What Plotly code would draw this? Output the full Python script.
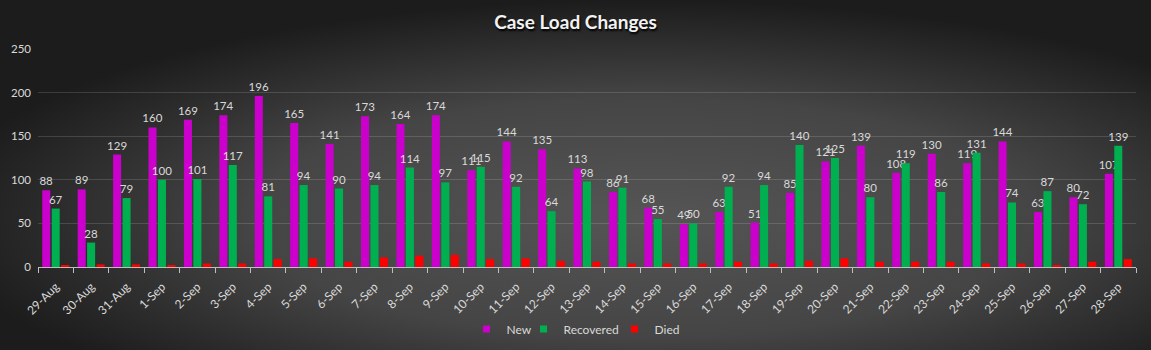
import base64
import plotly.graph_objects as go

categories = ["29-Aug", "30-Aug", "31-Aug", "1-Sep", "2-Sep", "3-Sep", "4-Sep", "5-Sep", "6-Sep", "7-Sep",
              "8-Sep", "9-Sep", "10-Sep", "11-Sep", "12-Sep", "13-Sep", "14-Sep", "15-Sep", "16-Sep", "17-Sep",
              "18-Sep", "19-Sep", "20-Sep", "21-Sep", "22-Sep", "23-Sep", "24-Sep", "25-Sep", "26-Sep", "27-Sep",
              "28-Sep"]
new_cases = [88, 89, 129, 160, 169, 174, 196, 165, 141, 173, 164, 174, 111, 144, 135, 113, 86, 68, 49, 63,
             51, 85, 121, 139, 108, 130, 119, 144, 63, 80, 107]
recovered = [67, 28, 79, 100, 101, 117, 81, 94, 90, 94, 114, 97, 115, 92, 64, 98, 91, 55, 50, 92,
             94, 140, 125, 80, 119, 86, 131, 74, 87, 72, 139]
died = [2, 3, 3, 2, 4, 4, 9, 10, 6, 11, 13, 14, 9, 10, 7, 6, 4, 4, 4, 6,
        4, 7, 10, 6, 6, 6, 4, 4, 2, 6, 9]
series_names = ["New", "Recovered", "Died"]
series_colors = ["#cc00cc", "#00b050", "#ff0000"]
y_ticks = [0, 50, 100, 150, 200, 250]

W, H = 1151, 350
ML, MR, MT, MB = 38, 15, 49, 83
PW, PH = W - ML - MR, H - MT - MB

svg = f'''<svg xmlns="http://www.w3.org/2000/svg" width="{W}" height="{H}" viewBox="0 0 {W} {H}" preserveAspectRatio="none">
<defs><radialGradient id="g" cx="0.56" cy="0.62" r="0.62" fx="0.56" fy="0.62">
<stop offset="0" stop-color="#555555"/><stop offset="0.55" stop-color="#454545"/><stop offset="1" stop-color="#1c1c1c"/>
</radialGradient></defs><rect width="{W}" height="{H}" fill="url(#g)"/></svg>'''
src = "data:image/svg+xml;base64," + base64.b64encode(svg.encode()).decode()

label_font = dict(family="Lato, 'Open Sans', sans-serif", size=11.5, color="#d9d9d9")
legend_widths = [12, 46, 0]

fig = go.Figure()
values = [new_cases, recovered, died]
for name, color, vals in zip(series_names, series_colors, values):
    kw = {}
    if name != "Died":
        kw = dict(text=vals, textposition="outside", textfont=label_font, cliponaxis=False,
                  constraintext="none")
    fig.add_trace(go.Bar(name=name, x=categories, y=vals, marker=dict(color=color, line=dict(width=0)),
                         showlegend=False, legendgroup=name, **kw))
for name, color, lw in zip(series_names, series_colors, legend_widths):
    kw = dict(legendwidth=lw) if lw else {}
    fig.add_trace(go.Scatter(name=name, x=[None], y=[None], mode="markers", legendgroup=name,
                             marker=dict(symbol="square", size=7, color=color), **kw))

fig.update_layout(
    width=W, height=H,
    margin=dict(l=ML, r=MR, t=MT, b=MB, pad=0, autoexpand=False),
    paper_bgcolor="#3a3a3a", plot_bgcolor="rgba(0,0,0,0)",
    barmode="group", bargap=0.2, bargroupgap=0.15,
    font=dict(family="Lato, 'Open Sans', sans-serif", color="#d9d9d9", size=12),
    title=dict(text="<b>Case Load Changes</b>", x=0.5, xanchor="center", y=1 - 22 / H, yanchor="middle",
               font=dict(size=19, color="#f2f2f2", shadow="1px 2px 2px #000000")),
    showlegend=True,
    legend=dict(orientation="h", x=0.5, xanchor="center", xref="container",
                y=1 - 329 / H, yanchor="middle", yref="container",
                font=dict(size=12, color="#d9d9d9"), bgcolor="rgba(0,0,0,0)",
                itemwidth=30, tracegroupgap=0),
    images=[dict(source=src, xref="paper", yref="paper",
                 x=-ML / PW, y=1 + MT / PH, sizex=W / PW, sizey=H / PH,
                 xanchor="left", yanchor="top", sizing="stretch", layer="below")],
)
fig.update_xaxes(type="category", tickangle=-45, tickfont=dict(size=12, color="#d9d9d9"),
                 showline=True, linecolor="#bfbfbf", linewidth=1, ticks="outside", tickson="boundaries",
                 ticklen=5, tickcolor="#bfbfbf", showgrid=False, automargin=False, ticklabelstandoff=7)
fig.update_yaxes(range=[0, 250], tickvals=y_ticks, tickfont=dict(size=11.5, color="#d9d9d9"),
                 showgrid=True, gridcolor="rgba(255,255,255,0.14)", gridwidth=1, zeroline=False,
                 showline=False, ticks="", ticklabelstandoff=6, automargin=False)

fig.write_html("out.html")
